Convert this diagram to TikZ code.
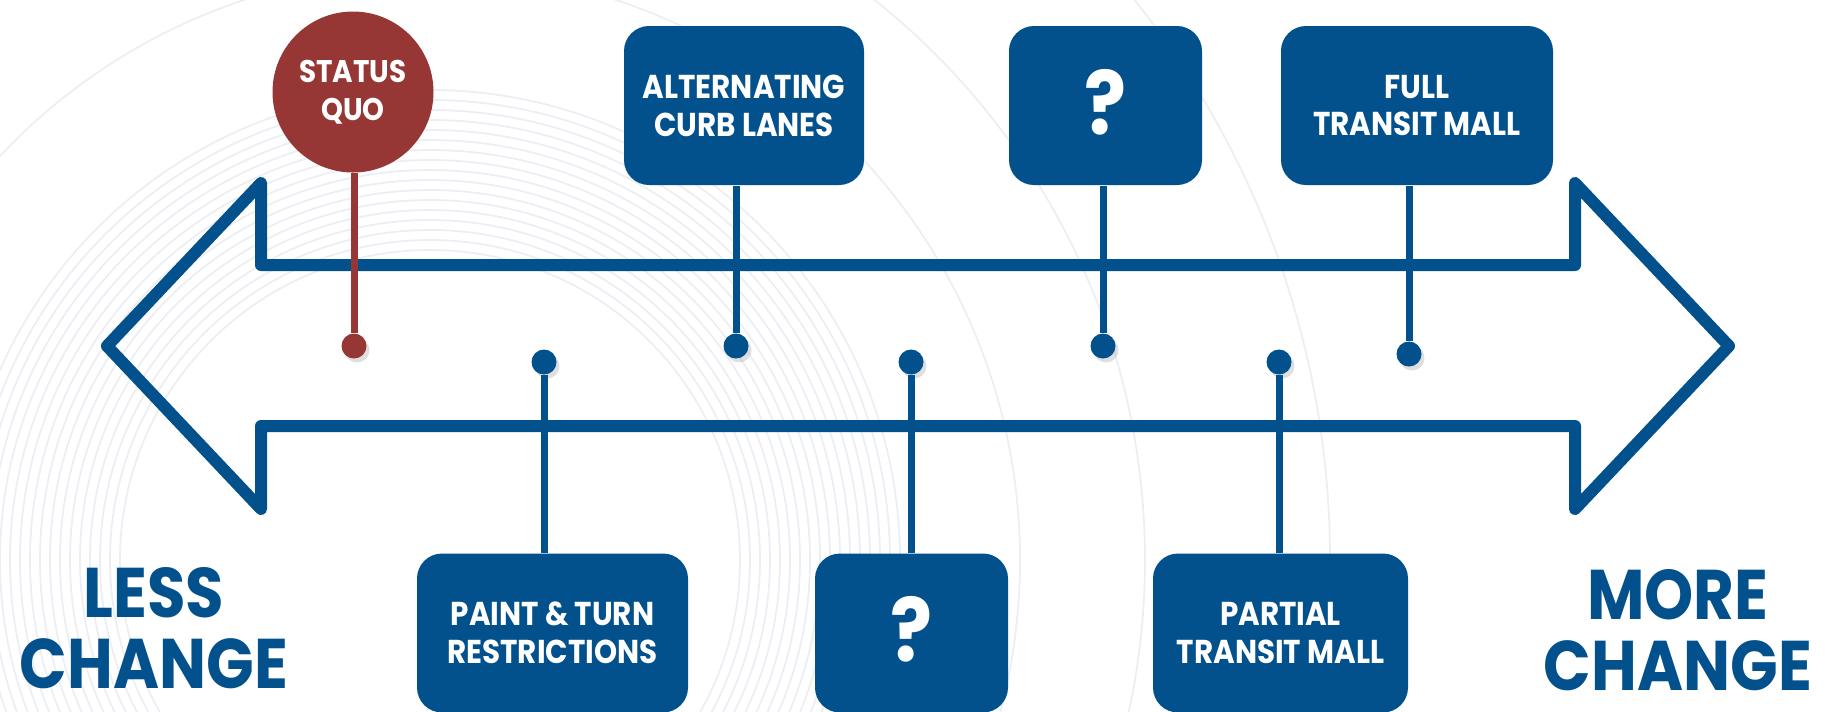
\documentclass[tikz,border=0pt]{standalone}
\usepackage{fontspec}
\setmainfont{Poppins}[FakeStretch=0.89]
\usetikzlibrary{shadows}
\definecolor{lane}{HTML}{02508C}
\definecolor{quo}{HTML}{963735}
\definecolor{ring}{HTML}{ECEEF3}
\tikzset{
  every node/.style = {font=\bfseries, text=white},
  tlbox/.style   = {fill=lane, rounded corners=2.5mm, align=center, inner sep=0pt,
                    minimum height=15.9mm, font=\bfseries\fontsize{9.4}{10.8}\selectfont},
  tlq/.style     = {tlbox, font=\bfseries\fontsize{25}{25}\selectfont},
  tlcirc/.style  = {circle, fill=quo, align=center, inner sep=0pt, minimum size=16.1mm,
                    font=\bfseries\fontsize{8.9}{10.8}\selectfont},
  tlarrow/.style = {draw=lane, line width=1.2mm, line join=round, line cap=round},
  tlstem/.style  = {draw=lane, line width=0.7mm},
  tlstemq/.style = {tlstem, draw=quo},
  tldot/.style   = {circle, fill=lane, inner sep=0pt, minimum size=2.5mm,
                    drop shadow={shadow xshift=0.3mm, shadow yshift=-0.4mm, opacity=0.25}},
  tldotq/.style  = {tldot, fill=quo},
  tlside/.style  = {text=lane, align=center, inner sep=0pt,
                    font=\bfseries\fontsize{20}{20}\selectfont},
  tlring/.style  = {draw=ring, line width=0.5pt},
}
\newcommand{\tlmark}{\raisebox{0.8mm}{?}}

\begin{document}
\begin{tikzpicture}[x=0.1mm, y=-0.1mm]
\useasboundingbox (0,0) rectangle (1825,711);
\clip (0,0) rectangle (1825,711);

% faint rings behind
\foreach \r in {310,320,...,470}
  \draw[tlring] (430,560) circle (\r);
\foreach \r in {590,715,900}
  \draw[tlring] (430,560) circle (\r);

% double arrow
\draw[tlarrow] (107,346) -- (261,183) -- (261,265) -- (1575,265) -- (1575,183)
  -- (1729,346) -- (1575,509) -- (1575,426) -- (261,426) -- (261,509) -- cycle;

% options above the arrow
\node[tlcirc] (quo) at (353,92) {STATUS\\QUO};
\node[tlbox, minimum width=24mm] (alt) at (744,105.5) {ALTERNATING\\CURB LANES};
\node[tlq, minimum width=19.3mm] (q1) at (1105.5,105.5) {\tlmark};
\node[tlbox, minimum width=27.2mm] (full) at (1417,105.5) {FULL\\TRANSIT MALL};

% options below the arrow
\node[tlbox, minimum width=27.1mm] (paint) at (552.5,633) {PAINT \& TURN\\RESTRICTIONS};
\node[tlq, minimum width=19.3mm] (q2) at (911.5,633) {\tlmark};
\node[tlbox, minimum width=25.5mm] (part) at (1280.5,633) {PARTIAL\\TRANSIT MALL};

% pins
\node[tldotq] (d-quo) at (354,346) {};
\node[tldot] (d-alt) at (736,346) {};
\node[tldot] (d-q1) at (1103,346) {};
\node[tldot] (d-full) at (1409,354) {};
\node[tldot] (d-paint) at (544,362) {};
\node[tldot] (d-q2) at (911,362) {};
\node[tldot] (d-part) at (1279,362) {};

\draw[tlstemq] (d-quo) -- (d-quo |- quo.south);
\draw[tlstem] (d-alt) -- (d-alt |- alt.south);
\draw[tlstem] (d-q1) -- (d-q1 |- q1.south);
\draw[tlstem] (d-full) -- (d-full |- full.south);
\draw[tlstem] (d-paint) -- (d-paint |- paint.north);
\draw[tlstem] (d-q2) -- (d-q2 |- q2.north);
\draw[tlstem] (d-part) -- (d-part |- part.north);

\node[tlside] (less) at (154,628) {LESS\\CHANGE};
\node[tlside] (more) at (1678,630) {MORE\\CHANGE};
\end{tikzpicture}
\end{document}
